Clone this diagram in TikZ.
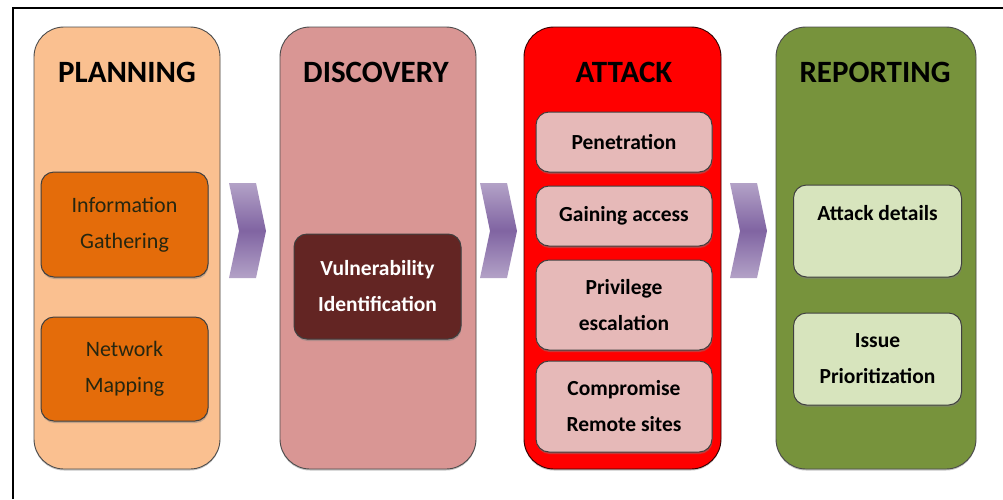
\documentclass[tikz,border=0pt]{standalone}
\usepackage{fontspec}
\setmainfont{Carlito}
\usetikzlibrary{shadows,calc}
\definecolor{planfill}{HTML}{FAC090}
\definecolor{planin}{HTML}{E46C0A}
\definecolor{discfill}{HTML}{D99694}
\definecolor{discin}{HTML}{632523}
\definecolor{attfill}{HTML}{FF0000}
\definecolor{attin}{HTML}{E6B9B8}
\definecolor{repfill}{HTML}{77933C}
\definecolor{repin}{HTML}{D7E4BD}
\definecolor{chevdark}{HTML}{8064A2}
\definecolor{chevlight}{HTML}{B3A2C7}
\definecolor{plantext}{HTML}{262610}
\begin{document}
\begin{tikzpicture}[x=1pt,y=-1pt,
  panel/.style={draw=black!70, line width=0.9pt, rounded corners=30pt,
    minimum width=#1, minimum height=442pt, inner sep=0pt,
    drop shadow={shadow xshift=0pt, shadow yshift=-1.5pt, opacity=0.45}},
  paneltitle/.style={font=\fontsize{31}{31}\selectfont\bfseries, text=black},
  inbox/.style={draw=black!75, line width=1pt, rounded corners=13pt,
    align=center, inner sep=0pt,
    drop shadow={shadow xshift=0.5pt, shadow yshift=-2pt, opacity=0.45}},
  regtext/.style={font=\fontsize{22}{36}\selectfont},
  boldtext/.style={font=\fontsize{21.5}{36}\selectfont\bfseries},
  chevron/.style={top color=chevlight, bottom color=chevlight, middle color=chevdark, draw=none}
]
\useasboundingbox (0,0) rectangle (1003,499);
\coordinate (fb) at (12.7,499);
\coordinate (fc) at (12.7,8.3);
\coordinate (fr) at (1003,8.3);
\draw[line width=2pt] (fb) -- (fc) -- (fr);

% panels
\node[panel=186pt, fill=planfill] (plan) at (127,248) {};
\node[panel=196pt, fill=discfill] (disc) at (378,248) {};
\node[panel=197pt, fill=attfill, draw=black!80!red] (att) at (622.5,248) {};
\node[panel=200pt, fill=repfill] (rep) at (876,248) {};

% titles
\node[paneltitle] (planT) at (127,72) {PLANNING};
\node[paneltitle] (discT) at (376,72) {DISCOVERY};
\node[paneltitle] (attT) at (624,72) {ATTACK};
\node[paneltitle] (repT) at (875,72) {REPORTING};

% planning boxes
\node[inbox, regtext, fill=planin, text=plantext, minimum width=167pt, minimum height=105pt]
  (info) at (124.5,224.5) {Information\\Gathering};
\node[inbox, regtext, fill=planin, text=plantext, minimum width=167pt, minimum height=104pt]
  (netmap) at (124.5,369) {Network\\Mapping};

% discovery box
\node[inbox, boldtext, fill=discin, text=white, minimum width=167pt, minimum height=105pt]
  (vuln) at (377.5,286.5) {Vulnerability\\Identification};

% attack boxes
\node[inbox, boldtext, fill=attin, text=black, minimum width=176pt, minimum height=60pt]
  (pen) at (624,142) {Penetration};
\node[inbox, boldtext, fill=attin, text=black, minimum width=176pt, minimum height=60pt]
  (gain) at (624,216) {Gaining access};
\node[inbox, boldtext, fill=attin, text=black, minimum width=176pt, minimum height=90pt]
  (priv) at (624,305) {Privilege\\escalation};
\node[inbox, boldtext, fill=attin, text=black, minimum width=176pt, minimum height=91pt]
  (comp) at (624,406.5) {Compromise\\Remote sites};

% reporting boxes
\node[inbox, boldtext, fill=repin, text=black, minimum width=168pt, minimum height=92pt]
  (details) at (877.5,231) {Attack details\\\phantom{Prioritization}};
\node[inbox, boldtext, fill=repin, text=black, minimum width=168pt, minimum height=92pt]
  (issue) at (877.5,359) {Issue\\Prioritization};

% chevrons
\foreach \cx/\nm in {229/c1, 480/c2, 730/c3}{
  \coordinate (\nm) at (\cx,183);
  \path[chevron] (\nm) -- ++(27,0) -- ++(10,48) -- ++(-10,47) -- ++(-27,0) -- ++(10,-47) -- cycle;
}
\end{tikzpicture}
\end{document}
